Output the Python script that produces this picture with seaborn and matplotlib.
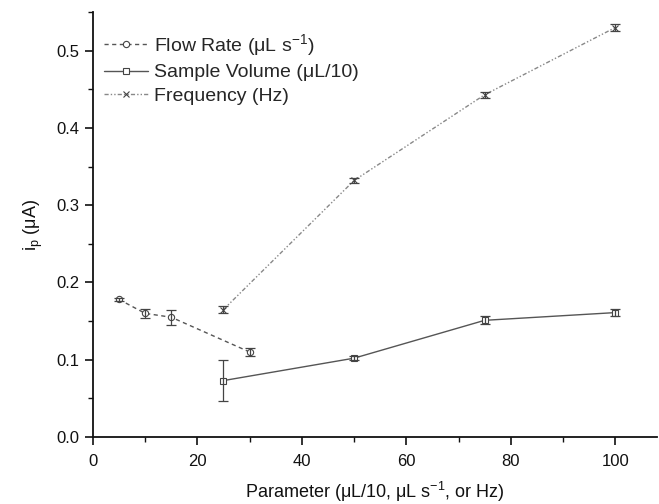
import matplotlib
matplotlib.use("Agg")
import matplotlib.pyplot as plt
from matplotlib.ticker import MultipleLocator, FormatStrFormatter
import seaborn as sns
import pandas as pd

# Peak current vs. experimental parameter
flow_x = [5, 10, 15, 30]
flow_y = [0.178, 0.160, 0.155, 0.110]
flow_err = [0.002, 0.006, 0.010, 0.005]

vol_x = [25, 50, 75, 100]
vol_y = [0.073, 0.102, 0.151, 0.161]
vol_err = [0.027, 0.003, 0.005, 0.005]

freq_x = [25, 50, 75, 100]
freq_y = [0.165, 0.332, 0.443, 0.530]
freq_err = [0.005, 0.003, 0.004, 0.004]

labels = ["Flow Rate (\u03bcL s$^{-1}$)", "Sample Volume (\u03bcL/10)", "Frequency (Hz)"]

sns.set_theme(style="ticks")
plt.rcParams["font.family"] = ["Liberation Sans", "DejaVu Sans"]
plt.rcParams["mathtext.fontset"] = "custom"
plt.rcParams["mathtext.rm"] = "Liberation Sans"
plt.rcParams["mathtext.it"] = "Liberation Sans:italic"

fig = plt.figure(figsize=(6.59, 5.04), dpi=100)
ax = fig.add_axes([0.141, 0.133, 0.856, 0.843])

series = [
    (flow_x, flow_y, flow_err, labels[0], "o", (0, (3, 2.5)), "#555555"),
    (vol_x, vol_y, vol_err, labels[1], "s", "-", "#555555"),
    (freq_x, freq_y, freq_err, labels[2], "x", (0, (3, 1.5, 1, 1.5, 1, 1.5)), "#888888"),
]

for xs, ys, es, lab, mk, ls, col in series:
    df = pd.DataFrame({"x": xs, "y": ys})
    sns.lineplot(data=df, x="x", y="y", ax=ax, color=col, linestyle=ls,
                 linewidth=1.0, marker=mk, markersize=4.5,
                 markerfacecolor="white" if mk != "x" else col,
                 markeredgecolor="#444444", markeredgewidth=0.8, label=lab)
    ax.errorbar(xs, ys, yerr=es, fmt="none", ecolor="#444444",
                elinewidth=0.9, capsize=3.5, capthick=0.9)

ax.set_xlim(0, 108)
ax.set_ylim(0, 0.55)
ax.xaxis.set_major_locator(MultipleLocator(20))
ax.xaxis.set_minor_locator(MultipleLocator(10))
ax.yaxis.set_major_locator(MultipleLocator(0.1))
ax.yaxis.set_minor_locator(MultipleLocator(0.05))
ax.yaxis.set_major_formatter(FormatStrFormatter("%.1f"))

for side in ("top", "right"):
    ax.spines[side].set_visible(False)
for side in ("left", "bottom"):
    ax.spines[side].set_linewidth(1.3)
    ax.spines[side].set_color("#111111")

ax.tick_params(which="major", direction="out", length=6, width=1.2,
               labelsize=12, colors="#111111")
ax.tick_params(which="minor", direction="out", length=3.5, width=1.0,
               colors="#111111")
ax.tick_params(axis="x", pad=6)

ax.set_xlabel("Parameter (\u03bcL/10, \u03bcL s$^{-1}$, or Hz)", fontsize=13,
              color="#111111", labelpad=8)
ax.set_ylabel("i$_\\mathrm{p}$ (\u03bcA)", fontsize=13, color="#111111", labelpad=8)

leg = ax.legend(loc="upper left", bbox_to_anchor=(-0.005, 0.985), frameon=False,
                fontsize=14, handlelength=2.3, handletextpad=0.3,
                labelspacing=0.3, borderaxespad=0.3)

fig.savefig("out.png", dpi=100)
